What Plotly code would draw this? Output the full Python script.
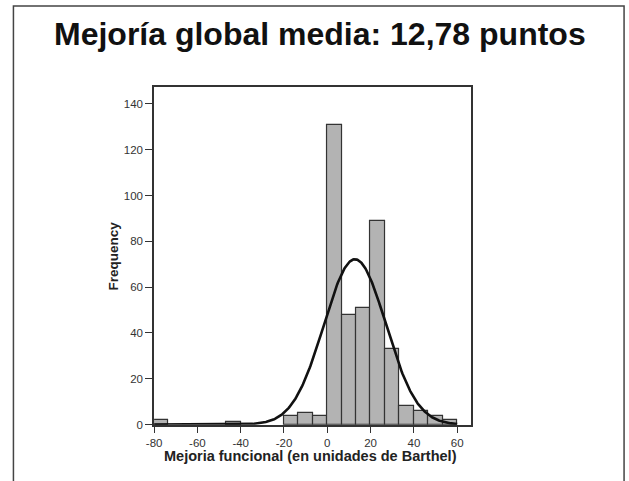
import numpy as np
import plotly.graph_objects as go

# Histogram data (bin width 20/3, starting at -80)
bin_start = -80.0
bin_width = 20.0 / 3.0
counts = [2, 0, 0, 0, 0, 1, 0, 0, 0, 4, 5, 4, 131, 48, 51, 89, 33, 8, 6, 4, 2]

# Fitted normal curve parameters
mean_val = 12.78
sd_val = 14.3

x_ticks = [-80, -60, -40, -20, 0, 20, 40, 60]
x_tick_labels = ["-80", "-60", "-40", "-20", "0", "20", "40", "60"]
y_ticks = [0, 20, 40, 60, 80, 100, 120, 140]
y_tick_labels = ["0", "20", "40", "60", "80", "100", "120", "140"]

title_text = "Mejoría global media: 12,78 puntos"
x_title = "Mejoria funcional (en unidades de Barthel)"
y_title = "Frequency"

W, H = 629, 481
FONT = "Arial, Liberation Sans, sans-serif"

centers = [bin_start + bin_width * (i + 0.5) for i, c in enumerate(counts) if c > 0]
heights = [c for c in counts if c > 0]
n_total = sum(counts)

xs = np.linspace(-80, 60, 400)
ys = n_total * bin_width / (sd_val * np.sqrt(2 * np.pi)) * np.exp(-((xs - mean_val) ** 2) / (2 * sd_val ** 2))

fig = go.Figure()
fig.add_trace(go.Bar(
    x=centers, y=heights, width=bin_width,
    marker=dict(color="#b3b3b3", line=dict(color="#333333", width=1.2)),
    showlegend=False, hoverinfo="skip",
))
fig.add_trace(go.Scatter(
    x=xs, y=ys, mode="lines",
    line=dict(color="#111111", width=2.6),
    showlegend=False, hoverinfo="skip",
))

def px_x(p):
    return p / W

def px_y(p):
    return 1 - p / H

fig.update_layout(
    width=W, height=H,
    margin=dict(l=0, r=0, t=0, b=0),
    paper_bgcolor="white", plot_bgcolor="white",
    bargap=0,
    xaxis=dict(
        domain=[px_x(148), px_x(469)],
        range=[-80, 66.4],
        tickvals=x_ticks, ticktext=x_tick_labels,
        ticks="outside", ticklen=7, tickwidth=1.3, tickcolor="#333333",
        showline=True, mirror=True, linecolor="#333333", linewidth=1.6,
        showgrid=False, zeroline=False,
        tickfont=dict(family=FONT, size=11.5, color="#333333"),
    ),
    yaxis=dict(
        domain=[px_y(430), px_y(88)],
        range=[0, 147.4],
        tickvals=y_ticks, ticktext=y_tick_labels,
        ticks="outside", ticklen=7, tickwidth=1.3, tickcolor="#333333",
        showline=True, mirror=True, linecolor="#333333", linewidth=1.6,
        showgrid=False, zeroline=False,
        tickfont=dict(family=FONT, size=11.5, color="#333333"),
    ),
    shapes=[
        dict(type="rect", xref="paper", yref="paper",
             x0=px_x(5.5), x1=px_x(624), y0=px_y(490), y1=px_y(6),
             line=dict(color="#444444", width=1.5)),
    ],
    annotations=[
        dict(text="<b>" + title_text + "</b>", xref="paper", yref="paper",
             x=px_x(316), y=px_y(34), xanchor="center", yanchor="middle",
             showarrow=False, font=dict(family=FONT, size=32, color="#111111")),
        dict(text="<b>" + x_title + "</b>", xref="paper", yref="paper",
             x=px_x(306), y=px_y(462), xanchor="center", yanchor="middle",
             showarrow=False, font=dict(family=FONT, size=14.5, color="#222222")),
        dict(text="<b>" + y_title + "</b>", xref="paper", yref="paper",
             x=px_x(107), y=px_y(259), xanchor="center", yanchor="middle",
             textangle=-90,
             showarrow=False, font=dict(family=FONT, size=13.5, color="#222222")),
    ],
)

fig.write_html("out.html")
